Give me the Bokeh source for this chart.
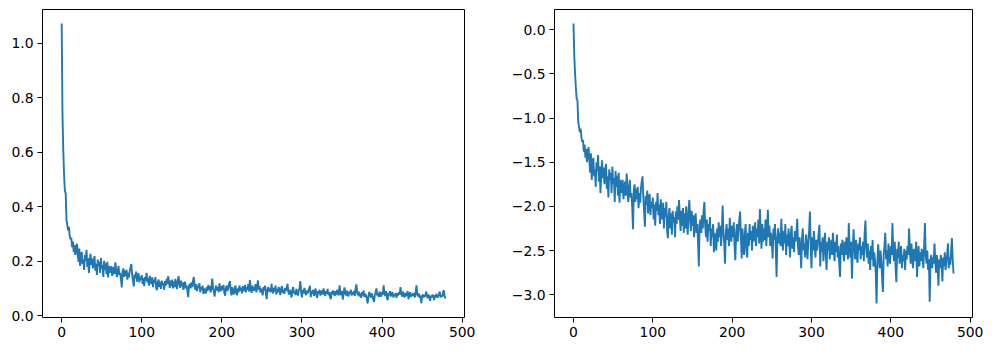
import numpy as np
from bokeh.plotting import figure
from bokeh.layouts import row
from bokeh.models import Range1d, FixedTicker, CustomJSTickFormatter
from bokeh.embed import file_html
from bokeh.resources import INLINE

# log of the loss (one value per step)
log_loss = [
    0.07, -0.30, -0.50, -0.66, -0.78, -0.80, -1.05, -1.10, -1.16, -1.12, -1.22, -1.27, -1.25, -1.38, -1.30, -1.45, -1.35, -1.50, -1.40, -1.33,
    -1.48, -1.62, -1.40, -1.70, -1.52, -1.45, -1.66, -1.58, -1.78, -1.50, -1.60, -1.42, -1.72, -1.55, -1.85, -1.62, -1.48, -1.68, -1.56, -1.75,
    -1.60, -1.52, -1.80, -1.66, -1.90, -1.58, -1.70, -1.62, -1.85, -1.55, -1.75, -1.68, -1.95, -1.60, -1.78, -1.65, -1.88, -1.62, -1.96, -1.70,
    -1.75, -1.85, -1.70, -1.92, -1.80, -1.72, -1.88, -1.63, -1.78, -1.95, -1.82, -1.70, -1.90, -1.85, -2.00, -2.26, -1.82, -1.75, -1.95, -1.80,
    -1.92, -1.78, -2.02, -1.85, -1.96, -1.80, -1.72, -1.66, -1.90, -2.05, -2.23, -1.88, -1.98, -1.82, -2.08, -1.92, -1.86, -2.10, -1.95, -2.02,
    -1.90, -2.15, -1.98, -2.22, -1.95, -2.05, -1.85, -2.10, -1.98, -2.20, -1.92, -2.05, -2.15, -1.96, -2.25, -2.02, -2.12, -1.95, -2.28, -2.36,
    -2.10, -2.02, -2.25, -2.08, -2.32, -2.05, -2.18, -2.12, -2.35, -2.06, -2.20, -2.00, -2.15, -1.93, -2.10, -2.28, -2.05, -2.22, -2.02, -2.30,
    -2.08, -2.25, -2.00, -2.18, -2.32, -2.05, -1.93, -2.15, -2.28, -2.05, -2.22, -2.10, -2.35, -2.15, -2.08, -2.30, -2.20, -2.40, -2.68, -2.20,
    -2.15, -2.30, -2.10, -2.25, -2.05, -1.95, -2.22, -2.35, -2.15, -2.40, -2.20, -2.28, -2.12, -2.45, -2.25, -2.35, -2.20, -2.52, -2.30, -2.40,
    -2.50, -2.25, -2.40, -2.18, -2.35, -2.22, -2.45, -2.28, -1.99, -2.30, -2.42, -2.65, -2.30, -2.20, -2.38, -2.25, -2.45, -2.13, -2.32, -2.40,
    -2.22, -2.35, -2.18, -2.45, -2.61, -2.30, -2.20, -2.40, -2.28, -2.15, -2.06, -2.35, -2.59, -2.25, -2.45, -2.55, -2.30, -2.20, -2.50, -2.58,
    -2.30, -2.45, -2.20, -2.38, -2.28, -2.50, -2.22, -2.40, -2.32, -2.18, -2.45, -2.25, -2.35, -2.15, -2.42, -2.03, -2.30, -2.48, -2.20, -2.40,
    -2.25, -2.38, -2.15, -2.45, -2.28, -2.04, -2.35, -2.22, -2.45, -2.30, -2.40, -2.59, -2.25, -2.38, -2.20, -2.50, -2.80, -2.35, -2.25, -2.42,
    -2.30, -2.45, -2.14, -2.38, -2.50, -2.28, -2.42, -2.20, -2.55, -2.32, -2.45, -2.25, -2.40, -2.58, -2.30, -2.22, -2.48, -2.35, -2.52, -2.28,
    -2.40, -2.30, -2.14, -2.45, -2.55, -2.35, -2.48, -2.70, -2.38, -2.25, -2.50, -2.42, -2.58, -2.32, -2.45, -2.60, -2.38, -2.28, -2.06, -2.45,
    -2.70, -2.35, -2.50, -2.28, -2.45, -2.58, -2.38, -2.50, -2.42, -2.30, -2.21, -2.68, -2.40, -2.52, -2.35, -2.62, -2.45, -2.30, -2.55, -2.72,
    -2.40, -2.50, -2.35, -2.60, -2.45, -2.38, -2.55, -2.30, -2.48, -2.62, -2.40, -2.52, -2.32, -2.58, -2.45, -2.65, -2.80, -2.42, -2.55, -2.38,
    -2.50, -2.62, -2.40, -2.55, -2.35, -2.48, -2.60, -2.19, -2.45, -2.58, -2.40, -2.82, -2.50, -2.26, -2.45, -2.60, -2.38, -2.55, -2.64, -2.42,
    -2.50, -2.35, -2.60, -2.45, -2.55, -2.40, -2.62, -2.30, -2.16, -2.48, -2.58, -2.42, -2.65, -2.50, -2.72, -2.45, -2.60, -2.38, -2.68, -2.52,
    -2.60, -2.75, -3.10, -2.65, -2.43, -2.58, -2.70, -2.50, -2.62, -2.80, -2.97, -2.55, -2.45, -2.30, -2.60, -2.50, -2.68, -2.42, -2.58, -2.65,
    -2.45, -2.55, -2.19, -2.50, -2.62, -2.40, -2.70, -2.86, -2.48, -2.58, -2.40, -2.65, -2.52, -2.45, -2.70, -2.55, -2.62, -2.48, -2.72, -2.50,
    -2.60, -2.45, -2.55, -2.25, -2.50, -2.65, -2.42, -2.58, -2.70, -2.48, -2.62, -2.55, -2.40, -2.80, -2.58, -2.45, -2.68, -2.52, -2.62, -2.48,
    -2.58, -2.70, -2.45, -2.19, -2.55, -2.65, -2.50, -2.72, -2.60, -3.08, -2.62, -2.55, -2.70, -2.58, -2.65, -2.42, -2.60, -2.75, -2.55, -2.68,
    -2.90, -2.60, -2.70, -2.55, -2.65, -2.85, -2.58, -2.68, -2.52, -2.72, -2.62, -2.55, -2.42, -2.70, -2.58, -2.66, -2.50, -2.36, -2.60, -2.76,
]
steps = list(range(len(log_loss)))
loss = list(np.exp(np.array(log_loss)))

x_ticks = [0, 100, 200, 300, 400, 500]
left_y_ticks = [0.0, 0.2, 0.4, 0.6, 0.8, 1.0]
right_y_ticks = [0.0, -0.5, -1.0, -1.5, -2.0, -2.5, -3.0]

COLOR = "#1f77b4"
FONT = "DejaVu Sans"
FS = "13.9px"

def padded(vals):
    lo, hi = min(vals), max(vals)
    m = (hi - lo) * 0.05
    return Range1d(lo - m, hi + m)

fmt = CustomJSTickFormatter(code="return tick.toFixed(1).replace('-', '\u2212');")
xfmt = CustomJSTickFormatter(code="return tick.toFixed(0);")

def make(yvals, yticks, width, bl, br):
    p = figure(width=width, height=348, output_backend="svg", toolbar_location=None,
               x_range=padded(steps), y_range=padded(yvals),
               min_border_left=bl, min_border_right=br, min_border_top=9, min_border_bottom=31)
    p.line(steps, yvals, line_color=COLOR, line_width=1.9)
    p.grid.visible = False
    p.outline_line_color = "black"
    p.outline_line_width = 1
    p.outline_line_alpha = 1
    p.background_fill_color = "white"
    p.border_fill_color = "white"
    p.xaxis.ticker = FixedTicker(ticks=x_ticks)
    p.yaxis.ticker = FixedTicker(ticks=yticks)
    p.xaxis.formatter = xfmt
    p.yaxis.formatter = fmt
    for ax in (p.xaxis, p.yaxis):
        ax.axis_line_color = None
        ax.major_tick_out = 5
        ax.major_tick_in = 0
        ax.minor_tick_line_color = None
        ax.major_tick_line_color = "black"
        ax.major_tick_line_width = 1
        ax.major_label_text_font = FONT
        ax.major_label_text_font_size = FS
        ax.major_label_text_color = "black"
        ax.major_label_standoff = 4
    return p

p1 = make(loss, left_y_ticks, 508, 42, 44)
p2 = make(log_loss, right_y_ticks, 484, 41, 20)

layout = row(p1, p2)
open("out.html", "w").write(file_html(layout, INLINE))
